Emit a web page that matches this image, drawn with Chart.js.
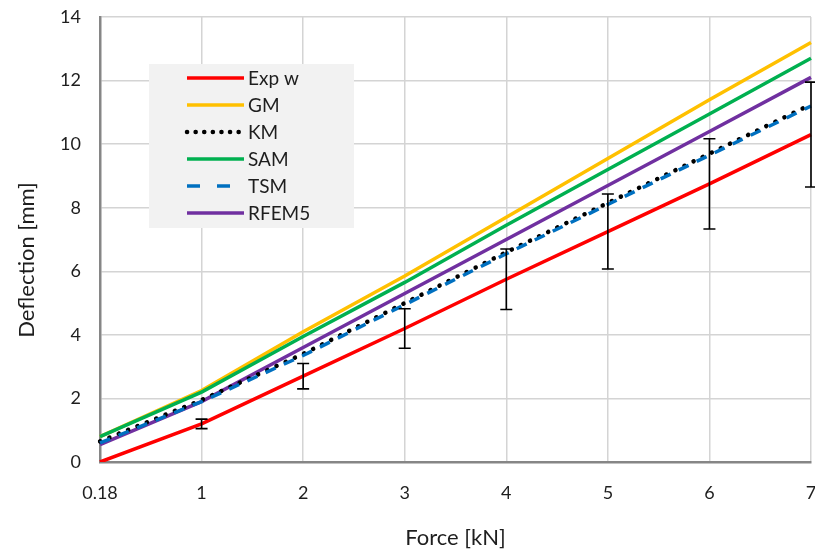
<!DOCTYPE html>
<html lang="en">
<head>
<meta charset="UTF-8">
<title>Deflection vs Force</title>
<script src="https://cdn.jsdelivr.net/npm/chart.js"></script>
<style>
    body { margin: 0; background: #fff; }
    #wrap { width: 815px; height: 551px; }
</style>
</head>
<body>
<div id="wrap"><canvas id="grafica"></canvas></div>
<script>
    // categorias del eje x (fuerza en kN)
    const fuerzas = ['0.18', '1', '2', '3', '4', '5', '6', '7'];

    // deflexion [mm]
    const expW  = [0.0, 1.2, 2.7, 4.2, 5.75, 7.25, 8.75, 10.3];
    const expErr = [0, 0.15, 0.4, 0.62, 0.95, 1.18, 1.42, 1.65];
    const gm    = [0.8, 2.25, 4.1, 5.85, 7.7, 9.55, 11.4, 13.2];
    const km    = [0.65, 1.95, 3.4, 5.0, 6.6, 8.15, 9.7, 11.25];
    const sam   = [0.8, 2.2, 3.95, 5.65, 7.45, 9.2, 10.95, 12.7];
    const tsm   = [0.6, 1.9, 3.35, 4.95, 6.55, 8.1, 9.65, 11.2];
    const rfem5 = [0.55, 1.9, 3.6, 5.3, 7.0, 8.7, 10.4, 12.1];

    const yTicks = [0, 2, 4, 6, 8, 10, 12, 14];
    const tituloY = 'Deflection [mm]';

    const fuente = "Lato, 'Open Sans', sans-serif";
    const colorTexto = '#1e1e1e';

    // barras de error del ensayo
    const barrasError = {
        id: 'barrasError',
        afterDatasetsDraw(chart) {
            const ctx = chart.ctx;
            const x = chart.scales.x, y = chart.scales.y;
            ctx.save();
            ctx.strokeStyle = '#000';
            ctx.lineWidth = 1.6;
            for (let i = 0; i < expW.length; i++) {
                if (!expErr[i]) continue;
                const px = x.getPixelForValue(i);
                const top = y.getPixelForValue(expW[i] + expErr[i]);
                const bot = y.getPixelForValue(expW[i] - expErr[i]);
                ctx.beginPath();
                ctx.moveTo(px, top); ctx.lineTo(px, bot);
                ctx.moveTo(px - 6, top); ctx.lineTo(px + 6, top);
                ctx.moveTo(px - 6, bot); ctx.lineTo(px + 6, bot);
                ctx.stroke();
            }
            ctx.restore();
        }
    };

    // leyenda dentro del area de la grafica + titulo del eje y
    const leyenda = {
        id: 'leyenda',
        afterDraw(chart) {
            const ctx = chart.ctx;
            const a = chart.chartArea;
            const bx = a.left + 49, by = a.top + 47;
            ctx.save();
            ctx.fillStyle = '#f2f2f2';
            ctx.fillRect(bx, by, 205, 164);
            chart.data.datasets.forEach((ds, k) => {
                const yy = by + 14 + k * 27;
                ctx.beginPath();
                ctx.strokeStyle = ds.borderColor;
                ctx.lineWidth = ds.borderWidth;
                ctx.lineCap = ds.borderCapStyle || 'butt';
                ctx.setLineDash(ds.legendDash || ds.borderDash || []);
                ctx.moveTo(bx + 38, yy);
                ctx.lineTo(bx + 95, yy);
                ctx.stroke();
                ctx.setLineDash([]);
                ctx.fillStyle = colorTexto;
                ctx.font = '19px ' + fuente;
                ctx.textBaseline = 'middle';
                ctx.fillText(ds.label, bx + 99, yy + 1);
            });

            ctx.translate(27, 260);
            ctx.rotate(-Math.PI / 2);
            ctx.font = '22px ' + fuente;
            ctx.textAlign = 'center';
            ctx.textBaseline = 'middle';
            ctx.fillStyle = colorTexto;
            ctx.fillText(tituloY, 0, 0);
            ctx.restore();
        }
    };

    const $grafica = document.querySelector('#grafica');
    new Chart($grafica, {
        type: 'line',
        data: {
            labels: fuerzas,
            datasets: [
                { label: 'Exp w', data: expW, borderColor: '#ff0000', borderWidth: 3.5, order: 0 },
                { label: 'GM', data: gm, borderColor: '#ffc000', borderWidth: 3.5, order: 5 },
                { label: 'KM', data: km, borderColor: '#000000', borderWidth: 4.5, borderDash: [0.1, 10], borderCapStyle: 'round', legendDash: [0.1, 8.5], order: 2 },
                { label: 'SAM', data: sam, borderColor: '#00b050', borderWidth: 3.5, order: 4 },
                { label: 'TSM', data: tsm, borderColor: '#0070c0', borderWidth: 3.5, borderDash: [11, 9], legendDash: [13, 17], order: 1 },
                { label: 'RFEM5', data: rfem5, borderColor: '#7030a0', borderWidth: 3.5, order: 3 }
            ].map(d => Object.assign({ pointRadius: 0, tension: 0, fill: false }, d))
        },
        options: {
            responsive: true,
            maintainAspectRatio: false,
            animation: false,
            layout: { padding: { top: 17, right: 4, left: 0, bottom: 0 } },
            plugins: {
                legend: { display: false },
                tooltip: { enabled: false }
            },
            scales: {
                x: {
                    type: 'category',
                    offset: false,
                    grid: { color: '#d4d4d4', lineWidth: 1.5, drawTicks: false },
                    border: { color: '#868686', width: 2.5 },
                    ticks: { color: colorTexto, font: { family: fuente, size: 18 }, padding: 20, maxRotation: 0, autoSkip: false },
                    title: { display: true, text: 'Force [kN]', color: colorTexto, font: { family: fuente, size: 22 }, padding: { top: 0, bottom: 0 } },
                    afterFit(s) { s.height = 89; s.paddingLeft = 0; s.paddingRight = 0; }
                },
                y: {
                    min: 0,
                    max: 14,
                    afterBuildTicks(s) { s.ticks = yTicks.map(v => ({ value: v })); },
                    grid: { color: '#d4d4d4', lineWidth: 1.5, drawTicks: false },
                    border: { color: '#868686', width: 2.5 },
                    ticks: { color: colorTexto, font: { family: fuente, size: 18 }, padding: 19 },
                    afterFit(s) { s.width = 100; s.paddingTop = 0; s.paddingBottom = 0; }
                }
            }
        },
        plugins: [barrasError, leyenda]
    });
</script>
</body>
</html>
